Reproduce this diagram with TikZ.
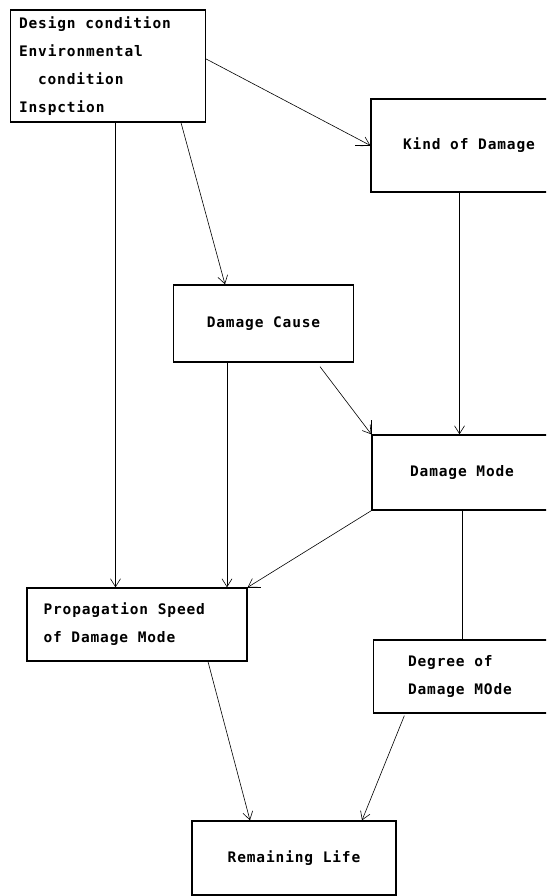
\documentclass[tikz,border=0pt]{standalone}
\usepackage{fontspec}
\setmonofont{DejaVu Sans Mono}[LetterSpace=6]
\usetikzlibrary{arrows.meta}
\newcommand{\wgap}{\hspace{9.6pt}}
\tikzset{
  box/.style={draw, line width=1.3pt, rectangle, inner sep=0pt, font=\ttfamily\bfseries\fontsize{14.5}{27.8}\selectfont},
  conn/.style={line width=0.6pt},
  arr/.style={conn, -{Straight Barb[length=8pt,width=10pt,line width=0.6pt]}}
}
\begin{document}
\begin{tikzpicture}[x=1pt,y=1pt]
\useasboundingbox (0,0) rectangle (546,896);
\clip (0,0) rectangle (546,896);
\fill[white] (0,0) rectangle (546,896);
% nodes
\node[box, minimum width=195pt, minimum height=112pt, text width=178pt, align=left] (b1) at (108,830)
  {Design\wgap condition\\Environmental\\\hspace*{19pt}condition\\Inspction};
\node[box, minimum width=196pt, minimum height=93pt] (kd) at (469,750.5) {Kind\wgap of\wgap Damage};
\node[box, minimum width=180pt, minimum height=77pt] (dc) at (263.5,572.5) {Damage\wgap Cause};
\node[box, minimum width=180pt, minimum height=75pt] (dm) at (462,423.5) {Damage\wgap Mode};
\node[box, minimum width=220pt, minimum height=73pt, text width=187pt, align=left] (ps) at (137,271.5)
  {Propagation\wgap Speed\\of\wgap Damage\wgap Mode};
\node[box, minimum height=73pt, text width=140pt, inner xsep=34.5pt, align=left] (dg) at (478,219.5)
  {Degree\wgap of\\Damage\wgap MOde};
\node[box, minimum width=204pt, minimum height=74pt] (rl) at (294,38) {Remaining\wgap Life};
% connectors
\draw[arr] ([yshift=7pt]b1.east) -- (kd.west);
\draw[arr] ([xshift=73pt]b1.south) -- ([xshift=-38.5pt]dc.north);
\draw[arr] ([xshift=7.5pt]b1.south) -- ([xshift=7.5pt]b1.south |- ps.north);
\draw[arr] ([xshift=-9.5pt]kd.south) -- ([xshift=-9.5pt]kd.south |- dm.north);
\draw[arr] ([xshift=-36.5pt]dc.south) -- ([xshift=-36.5pt]dc.south |- ps.north);
\draw[arr] ([xshift=56.5pt,yshift=-4pt]dc.south) -- (dm.north west);
\draw[arr] (dm.south west) -- (ps.north east);
\draw[conn] (dm.south) -- (dm.south |- dg.north);
\draw[arr] ([xshift=71pt]ps.south) -- ([xshift=-44pt]rl.north);
\draw[arr] ([xshift=31.5pt,yshift=-2pt]dg.south west) -- ([xshift=68pt]rl.north);
% small stubs
\draw[line width=1.2pt] (ps.north east) -- ++(13,0);
\draw[line width=0.8pt] (kd.west) -- ++(-15,0);
\draw[line width=0.8pt] (dm.north west) -- ++(0,14);
\end{tikzpicture}
\end{document}
